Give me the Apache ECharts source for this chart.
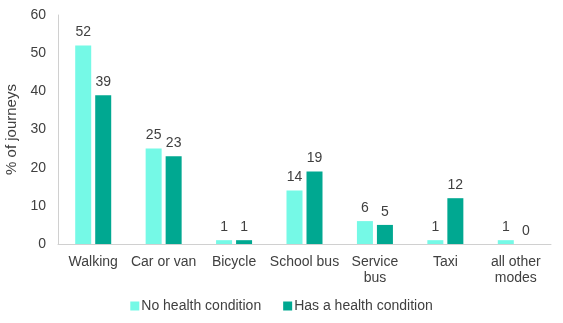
<!DOCTYPE html>
<html><head><meta charset="utf-8">
<script src="https://cdn.jsdelivr.net/npm/echarts@6/dist/echarts.min.js"></script>
<style>html,body{margin:0;padding:0;background:#fff}#c{width:563px;height:323px}</style>
</head><body><div id="c"></div>
<script>
const categories = ['Walking', 'Car or van', 'Bicycle', 'School bus', 'Service\nbus', 'Taxi', 'all other\nmodes'];
const noHealth = [52, 25, 1, 14, 6, 1, 1];
const hasHealth = [39, 23, 1, 19, 5, 12, 0];
const seriesNames = ['No health condition', 'Has a health condition'];
const font = 'Liberation Sans, Arial, sans-serif';
const txt = '#404040';
const chart = echarts.init(document.getElementById('c'));
chart.setOption({
  animation: false,
  grid: {left: 58, right: 12, top: 15, bottom: 79, containLabel: false, outerBoundsMode: 'none'},
  legend: {
    bottom: 5, left: 'center', itemWidth: 9, itemHeight: 9, itemGap: 22,
    icon: 'rect',
    textStyle: {fontFamily: font, fontSize: 14, color: txt, padding: [0, 0, 0, -3]},
    data: seriesNames
  },
  xAxis: {
    type: 'category', data: categories,
    axisLine: {lineStyle: {color: '#d0d0d0', width: 1}},
    axisTick: {show: false},
    axisLabel: {fontFamily: font, fontSize: 14, color: txt, margin: 10, lineHeight: 16, interval: 0}
  },
  yAxis: {
    type: 'value', min: 0, max: 60, interval: 10,
    name: '% of journeys', nameLocation: 'middle', nameGap: 39, nameRotate: 90,
    nameTextStyle: {fontFamily: font, fontSize: 15, color: txt},
    axisLine: {show: true, lineStyle: {color: '#d0d0d0', width: 1}},
    axisTick: {show: false},
    splitLine: {show: false},
    axisLabel: {fontFamily: font, fontSize: 14, color: txt, margin: 12}
  },
  series: [
    {name: seriesNames[0], type: 'bar', data: noHealth, barWidth: 16, barGap: '25%',
     itemStyle: {color: '#75F9E6'},
     label: {show: true, position: 'top', distance: 6, fontFamily: font, fontSize: 14, color: txt}},
    {name: seriesNames[1], type: 'bar', data: hasHealth, barWidth: 16,
     itemStyle: {color: '#00A891'},
     label: {show: true, position: 'top', distance: 6, fontFamily: font, fontSize: 14, color: txt}}
  ]
});
</script></body></html>
